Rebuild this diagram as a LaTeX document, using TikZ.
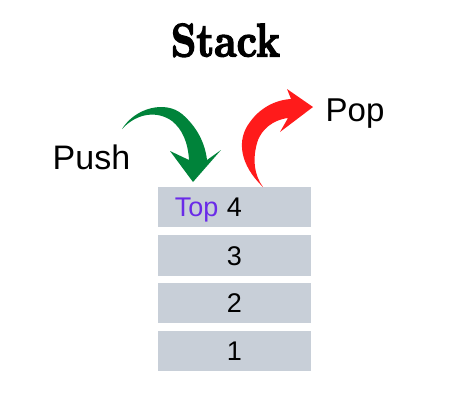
\documentclass[tikz,border=0pt]{standalone}
\usepackage{fontspec}
\newfontfamily\sansf{Liberation Sans}
\newfontfamily\titlef[FakeBold=3]{lmroman10-bold.otf}
\definecolor{boxgray}{HTML}{C8CFD8}
\definecolor{pushgreen}{HTML}{00833A}
\definecolor{popred}{HTML}{FF1B1B}
\definecolor{toppurple}{HTML}{6A2BE8}
\begin{document}
\begin{tikzpicture}[x=1pt,y=-1pt,
  stackbox/.style={fill=boxgray,draw=none},
  numtxt/.style={font=\sansf\fontsize{27}{27}\selectfont,inner sep=0pt,anchor=base},
  bigtxt/.style={font=\sansf\fontsize{34}{34}\selectfont,inner sep=0pt,anchor=base west}]
\useasboundingbox (0,0) rectangle (450,400);
% title
\node[font=\titlef\fontsize{40}{40}\selectfont,inner sep=0pt,anchor=base] (title) at (225.5,56.5) {\scalebox{1}[1.18]{Stack}};
% stack boxes
\path[stackbox] (158,187) rectangle (311,227) coordinate (b1);
\path[stackbox] (158,235) rectangle (311,276) coordinate (b2);
\path[stackbox] (158,283) rectangle (311,323) coordinate (b3);
\path[stackbox] (158,331) rectangle (311,371) coordinate (b4);
\node[numtxt] (n4) at (234.5,216.8) {4};
\node[numtxt] (n3) at (234.5,265.3) {3};
\node[numtxt] (n2) at (234.5,312.8) {2};
\node[numtxt] (n1) at (234.5,360.8) {1};
\node[numtxt,anchor=base east,text=toppurple] (top) at (218.5,216.8) {Top};
% labels
\node[bigtxt] (push) at (52.5,169) {Push};
\node[bigtxt,font=\sansf\fontsize{33}{33}\selectfont] (pop) at (325.5,121.7) {Pop};
% green push arrow
\fill[pushgreen] (122,129) .. controls (135,108) and (165,100) .. (182,114)
  .. controls (196,126) and (205,142) .. (207,160)
  -- (221,150) -- (193,182) -- (170,151) -- (189,160)
  .. controls (188,142) and (182,129) .. (172,121)
  .. controls (158,111) and (138,112) .. (122,129) -- cycle;
% red pop arrow
\fill[popred] (263,187) .. controls (240,165) and (236,140) .. (250,122)
  .. controls (260,108) and (275,100) .. (291,99)
  -- (287,89) -- (313,107) -- (280,132) -- (288,118)
  .. controls (272,120) and (262,130) .. (258,140)
  .. controls (252,158) and (254,175) .. (263,187) -- cycle;
\end{tikzpicture}
\end{document}
